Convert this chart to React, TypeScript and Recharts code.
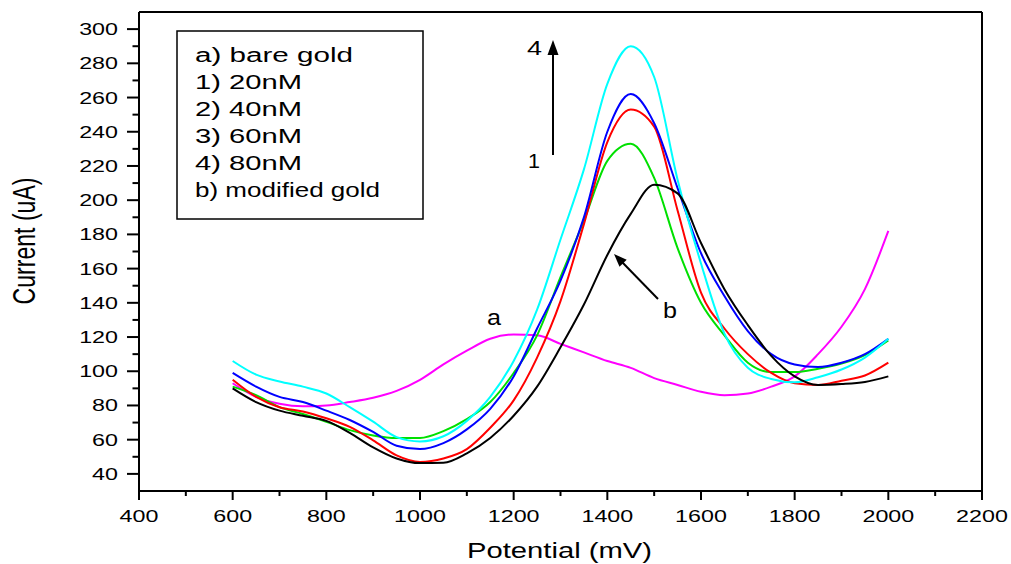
import React from 'react';
import { LineChart, Line, XAxis, YAxis, ReferenceLine } from 'recharts';

// potential (mV) sampled every 50 mV
const potentials = [600, 650, 700, 750, 800, 850, 900, 950, 1000, 1050, 1100, 1150, 1200, 1250, 1300, 1350, 1400, 1450, 1500, 1550, 1600, 1650, 1700, 1750, 1800, 1850, 1900, 1950, 2000];

// current (uA) per curve
const bareGold = [93, 85, 81, 79.5, 80, 82, 84.5, 88.5, 95, 104, 112, 119, 121.5, 121, 116, 111, 106, 102, 96, 92, 88, 86, 87, 91, 97, 110, 126, 148, 182];
const nm20 = [91, 86, 79, 75, 70.5, 65.6, 62.5, 61, 61, 65, 72, 82, 99, 121, 155, 188, 223, 233, 213, 172, 140, 121, 105, 99.5, 99.5, 101.5, 104.5, 109.5, 118];
const nm40 = [95, 85, 79, 76.5, 72.5, 67.5, 59.6, 50.8, 47, 49, 54.5, 67, 83, 108, 141, 186, 234, 253, 243, 194, 146, 125, 110, 99, 93, 92, 94.5, 97.5, 105];
const nm60 = [99, 91, 85, 82, 77, 71.5, 64.5, 56.5, 54.5, 58, 66, 78, 97, 125, 153, 190, 240, 262, 245, 207, 169, 144, 123.5, 110, 104, 102.5, 105, 110, 119];
const nm80 = [106, 98, 94, 91, 87, 79, 70.5, 61.5, 59, 62, 71, 85, 106, 136, 177, 218, 268, 290, 272, 212, 163, 122, 102, 95.5, 93.5, 96.5, 101, 108, 119];
const modifiedGold = [90, 82, 77, 74, 71, 64, 55.5, 49, 46.3, 46.5, 52, 61, 74, 91, 114, 139, 168, 192, 209, 204, 175, 148, 127, 109, 97, 92, 92.5, 93.7, 97];

const xTicks = [400, 500, 600, 700, 800, 900, 1000, 1100, 1200, 1300, 1400, 1500, 1600, 1700, 1800, 1900, 2000, 2100, 2200];
const yTicks = [40, 50, 60, 70, 80, 90, 100, 110, 120, 130, 140, 150, 160, 170, 180, 190, 200, 210, 220, 230, 240, 250, 260, 270, 280, 290, 300];

const legendLines = ['a) bare gold', '1) 20nM', '2) 40nM', '3) 60nM', '4) 80nM', 'b) modified gold'];
const legendWidths = [158, 107, 107, 107, 107, 185];

const data = potentials.map((mv, i) => ({
  mv,
  bare: bareGold[i],
  c20: nm20[i],
  c40: nm40[i],
  c60: nm60[i],
  c80: nm80[i],
  mod: modifiedGold[i],
}));

const FONT = '"Liberation Sans", Arial, sans-serif';

const XTick = (props: any) => {
  const { x, y, payload } = props;
  const major = payload.value % 200 === 0;
  return (
    <g>
      <line x1={x} y1={y} x2={x} y2={y + (major ? 9 : 5)} stroke="#000" strokeWidth={2} />
      {major && (
        <text transform={`translate(${x},${y + 31}) scale(1.37,1)`} textAnchor="middle" fontSize={17} fontFamily={FONT} fill="#000">
          {payload.value}
        </text>
      )}
    </g>
  );
};

const YTick = (props: any) => {
  const { x, y, payload } = props;
  const major = payload.value % 20 === 0;
  return (
    <g>
      <line x1={x - (major ? 12 : 6.5)} y1={y} x2={x} y2={y} stroke="#000" strokeWidth={2} />
      {major && (
        <text transform={`translate(${x - 21},${y + 6}) scale(1.37,1)`} textAnchor="end" fontSize={17} fontFamily={FONT} fill="#000">
          {payload.value}
        </text>
      )}
    </g>
  );
};

export default function App() {
  return (
    <div style={{ position: 'absolute', left: 0, top: 0, width: 1011, height: 564, background: '#fff' }}>
      <LineChart width={1011} height={564} data={data} margin={{ top: 12, right: 29, left: 59, bottom: 0 }}>
        <XAxis
          dataKey="mv"
          type="number"
          domain={[400, 2200]}
          ticks={xTicks}
          interval={0}
          height={73}
          tickSize={0}
          tickMargin={0}
          tick={<XTick />}
          axisLine={{ stroke: '#000', strokeWidth: 2 }}
        />
        <YAxis
          type="number"
          domain={[30, 310]}
          ticks={yTicks}
          interval={0}
          width={80}
          tickSize={0}
          tickMargin={0}
          tick={<YTick />}
          axisLine={{ stroke: '#000', strokeWidth: 2 }}
          allowDataOverflow
        />
        <ReferenceLine y={310} stroke="#000" strokeWidth={2} />
        <ReferenceLine x={2200} stroke="#000" strokeWidth={2} />
        <Line type="monotone" dataKey="bare" stroke="#ff00ff" strokeWidth={2} dot={false} isAnimationActive={false} />
        <Line type="monotone" dataKey="c20" stroke="#00e000" strokeWidth={2} dot={false} isAnimationActive={false} />
        <Line type="monotone" dataKey="c40" stroke="#ff0000" strokeWidth={2} dot={false} isAnimationActive={false} />
        <Line type="monotone" dataKey="c60" stroke="#0000ff" strokeWidth={2} dot={false} isAnimationActive={false} />
        <Line type="monotone" dataKey="c80" stroke="#00ffff" strokeWidth={2} dot={false} isAnimationActive={false} />
        <Line type="monotone" dataKey="mod" stroke="#000000" strokeWidth={2} dot={false} isAnimationActive={false} />
      </LineChart>
      <svg width={1011} height={564} style={{ position: 'absolute', left: 0, top: 0, pointerEvents: 'none' }}>
        <g fontFamily={FONT} fill="#000">
          <rect x={177} y={31} width={246} height={188} fill="#fff" stroke="#000" strokeWidth={1.5} />
          {legendLines.map((t, i) => (
            <text key={t} x={195} y={62 + i * 27} fontSize={19.5} textLength={legendWidths[i]} lengthAdjust="spacingAndGlyphs">
              {t}
            </text>
          ))}
          <text x={467} y={558} fontSize={22} textLength={185} lengthAdjust="spacingAndGlyphs">Potential (mV)</text>
          <text transform="translate(35,241) rotate(-90) scale(1,1.4)" textAnchor="middle" fontSize={22} textLength={127} lengthAdjust="spacingAndGlyphs">
            Current (uA)
          </text>
          <text x={487} y={325} fontSize={22} textLength={14} lengthAdjust="spacingAndGlyphs">a</text>
          <text x={663} y={318} fontSize={22} textLength={14} lengthAdjust="spacingAndGlyphs">b</text>
          <text x={527} y={55} fontSize={21} textLength={15} lengthAdjust="spacingAndGlyphs">4</text>
          <text x={528} y={168} fontSize={21} textLength={12} lengthAdjust="spacingAndGlyphs">1</text>
        </g>
        <line x1={553} y1={155} x2={553} y2={52} stroke="#000" strokeWidth={2} />
        <polygon points="553,40 547.5,55 558.5,55" fill="#000" />
        <line x1={658} y1={299} x2={622} y2={262} stroke="#000" strokeWidth={2} />
        <polygon points="614,254 626.7,259.8 619.5,266.8" fill="#000" />
      </svg>
    </div>
  );
}
